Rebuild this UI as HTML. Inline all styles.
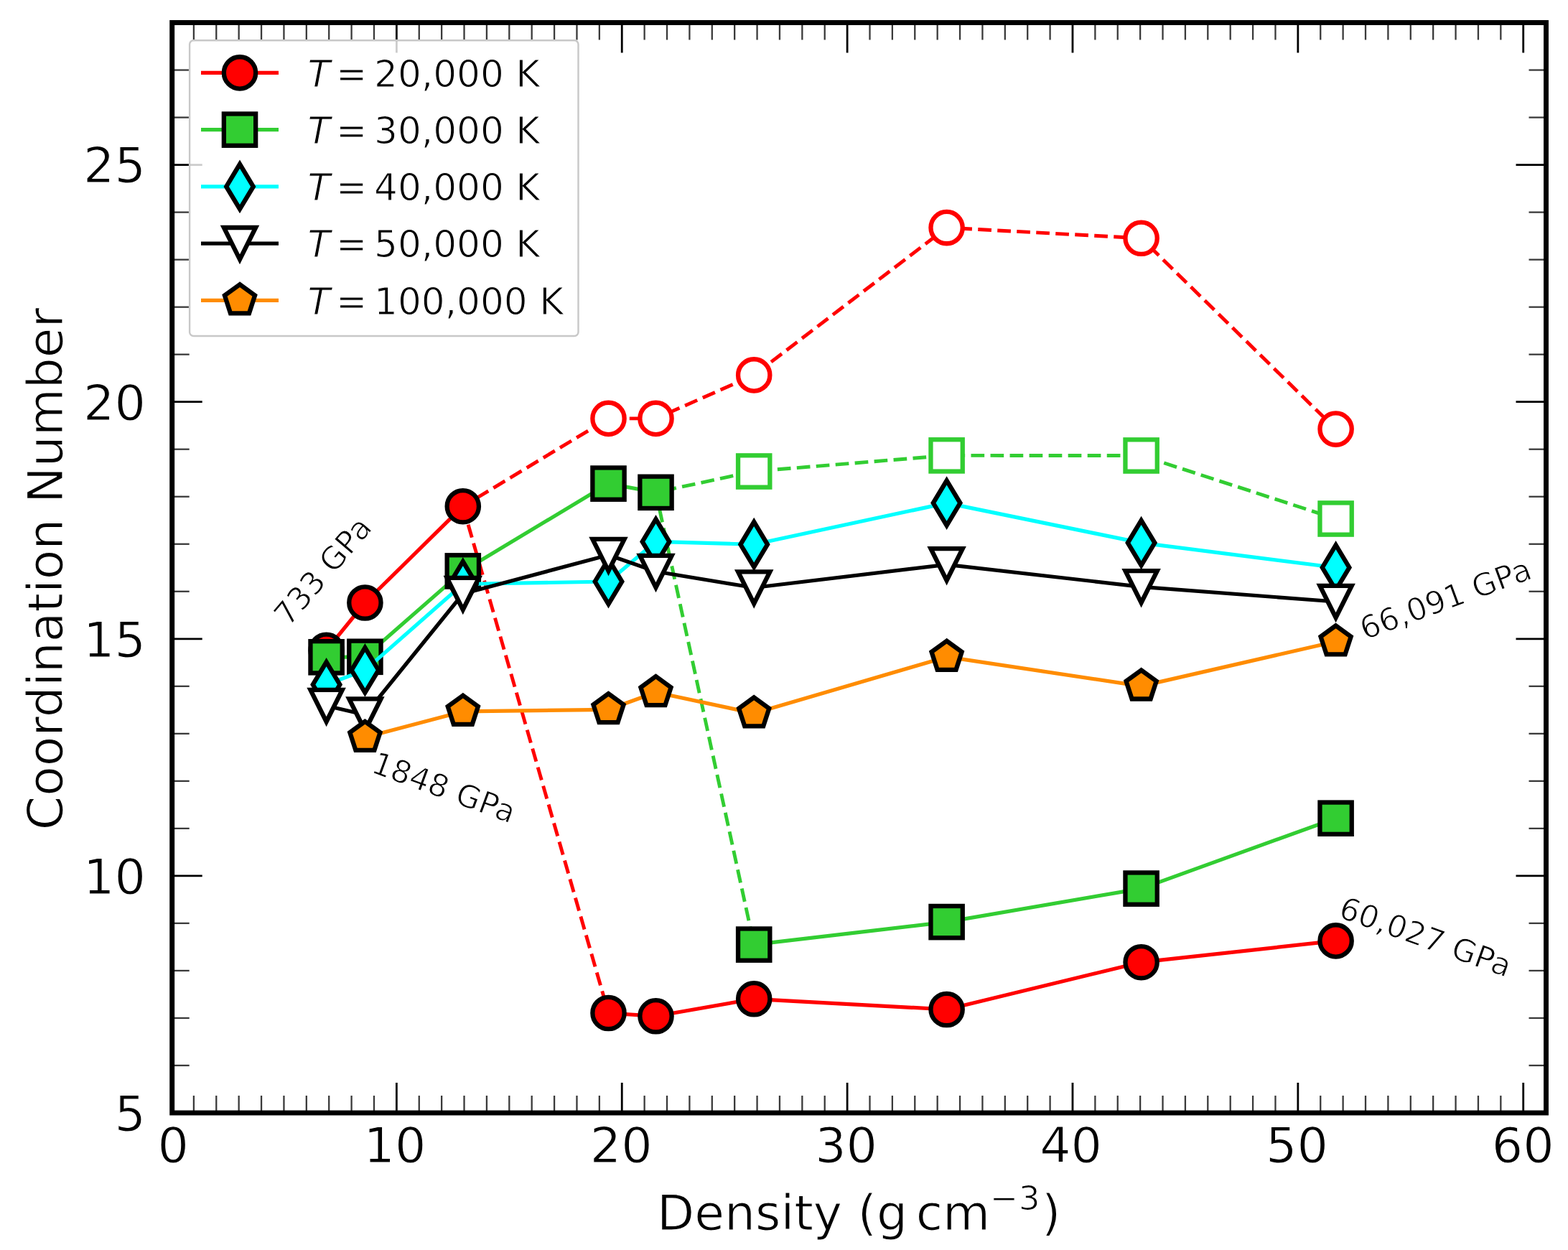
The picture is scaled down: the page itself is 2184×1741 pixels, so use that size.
<!DOCTYPE html>
<html><head><meta charset="utf-8"><title>Coordination Number vs Density</title><style>html,body{margin:0;padding:0;background:#fff;overflow:hidden}svg{display:block;filter:blur(0.5px)}</style></head><body>
<svg width="2184" height="1741" viewBox="0 0 2184 1741">
<rect x="0" y="0" width="2184" height="1741" fill="#ffffff"/>
<defs><clipPath id="ax"><rect x="239.7" y="31.5" width="1913.8" height="1518.5"/></clipPath></defs>
<g clip-path="url(#ax)">
<polyline points="644.8,705.2 847.5,582.9 913.5,582.9 1050.2,522.4 1318.6,317.1 1589.6,331.8 1860.6,597.6" fill="none" stroke="#ff0000" stroke-width="4.9" stroke-linejoin="round" stroke-linecap="butt" stroke-dasharray="18.7 8.34" stroke-dashoffset="4.4"/>
<polyline points="644.8,705.2 847.5,1411" fill="none" stroke="#ff0000" stroke-width="4.9" stroke-linejoin="round" stroke-linecap="butt" stroke-dasharray="18.7 8.34" stroke-dashoffset="0.5"/>
<circle cx="847.5" cy="582.9" r="22.15" fill="#ffffff" stroke="#ff0000" stroke-width="6.3"/>
<circle cx="913.5" cy="582.9" r="22.15" fill="#ffffff" stroke="#ff0000" stroke-width="6.3"/>
<circle cx="1050.2" cy="522.4" r="22.15" fill="#ffffff" stroke="#ff0000" stroke-width="6.3"/>
<circle cx="1318.6" cy="317.1" r="22.15" fill="#ffffff" stroke="#ff0000" stroke-width="6.3"/>
<circle cx="1589.6" cy="331.8" r="22.15" fill="#ffffff" stroke="#ff0000" stroke-width="6.3"/>
<circle cx="1860.6" cy="597.6" r="22.15" fill="#ffffff" stroke="#ff0000" stroke-width="6.3"/>
<polyline points="454.6,905.7 508.4,839.5 644.8,705.2" fill="none" stroke="#ff0000" stroke-width="5.2" stroke-linejoin="round" stroke-linecap="butt"/>
<circle cx="454.6" cy="905.7" r="22.15" fill="#ff0000" stroke="#000000" stroke-width="6.3"/>
<circle cx="508.4" cy="839.5" r="22.15" fill="#ff0000" stroke="#000000" stroke-width="6.3"/>
<circle cx="644.8" cy="705.2" r="22.15" fill="#ff0000" stroke="#000000" stroke-width="6.3"/>
<polyline points="847.5,1411 913.5,1415.3 1050.2,1391.3 1318.6,1406 1589.6,1340.2 1860.6,1310.4" fill="none" stroke="#ff0000" stroke-width="5.2" stroke-linejoin="round" stroke-linecap="butt"/>
<circle cx="847.5" cy="1411" r="22.15" fill="#ff0000" stroke="#000000" stroke-width="6.3"/>
<circle cx="913.5" cy="1415.3" r="22.15" fill="#ff0000" stroke="#000000" stroke-width="6.3"/>
<circle cx="1050.2" cy="1391.3" r="22.15" fill="#ff0000" stroke="#000000" stroke-width="6.3"/>
<circle cx="1318.6" cy="1406" r="22.15" fill="#ff0000" stroke="#000000" stroke-width="6.3"/>
<circle cx="1589.6" cy="1340.2" r="22.15" fill="#ff0000" stroke="#000000" stroke-width="6.3"/>
<circle cx="1860.6" cy="1310.4" r="22.15" fill="#ff0000" stroke="#000000" stroke-width="6.3"/>
<polyline points="913.5,685.8 1050.2,656.5 1318.6,634.4 1589.6,634.5 1860.6,722.5" fill="none" stroke="#32cd32" stroke-width="4.9" stroke-linejoin="round" stroke-linecap="butt" stroke-dasharray="18.7 8.34" stroke-dashoffset="16.7"/>
<polyline points="913.5,685.8 1050.2,1315.6" fill="none" stroke="#32cd32" stroke-width="4.9" stroke-linejoin="round" stroke-linecap="butt" stroke-dasharray="18.7 8.34" stroke-dashoffset="3.2"/>
<rect x="1028.05" y="634.35" width="44.3" height="44.3" fill="#ffffff" stroke="#32cd32" stroke-width="6.3" stroke-linejoin="miter"/>
<rect x="1296.45" y="612.25" width="44.3" height="44.3" fill="#ffffff" stroke="#32cd32" stroke-width="6.3" stroke-linejoin="miter"/>
<rect x="1567.45" y="612.35" width="44.3" height="44.3" fill="#ffffff" stroke="#32cd32" stroke-width="6.3" stroke-linejoin="miter"/>
<rect x="1838.45" y="700.35" width="44.3" height="44.3" fill="#ffffff" stroke="#32cd32" stroke-width="6.3" stroke-linejoin="miter"/>
<polyline points="454.6,915.3 508.4,914.8 644.8,795.4 847.5,673.6 913.5,685.8" fill="none" stroke="#32cd32" stroke-width="5.2" stroke-linejoin="round" stroke-linecap="butt"/>
<rect x="432.45" y="893.15" width="44.3" height="44.3" fill="#32cd32" stroke="#000000" stroke-width="6.3" stroke-linejoin="miter"/>
<rect x="486.25" y="892.65" width="44.3" height="44.3" fill="#32cd32" stroke="#000000" stroke-width="6.3" stroke-linejoin="miter"/>
<rect x="622.65" y="773.25" width="44.3" height="44.3" fill="#32cd32" stroke="#000000" stroke-width="6.3" stroke-linejoin="miter"/>
<rect x="825.35" y="651.45" width="44.3" height="44.3" fill="#32cd32" stroke="#000000" stroke-width="6.3" stroke-linejoin="miter"/>
<rect x="891.35" y="663.65" width="44.3" height="44.3" fill="#32cd32" stroke="#000000" stroke-width="6.3" stroke-linejoin="miter"/>
<polyline points="1050.2,1315.6 1318.6,1284.1 1589.6,1237.6 1860.6,1139.7" fill="none" stroke="#32cd32" stroke-width="5.2" stroke-linejoin="round" stroke-linecap="butt"/>
<rect x="1028.05" y="1293.45" width="44.3" height="44.3" fill="#32cd32" stroke="#000000" stroke-width="6.3" stroke-linejoin="miter"/>
<rect x="1296.45" y="1261.95" width="44.3" height="44.3" fill="#32cd32" stroke="#000000" stroke-width="6.3" stroke-linejoin="miter"/>
<rect x="1567.45" y="1215.45" width="44.3" height="44.3" fill="#32cd32" stroke="#000000" stroke-width="6.3" stroke-linejoin="miter"/>
<rect x="1838.45" y="1117.55" width="44.3" height="44.3" fill="#32cd32" stroke="#000000" stroke-width="6.3" stroke-linejoin="miter"/>
<polyline points="454.6,953.5 508.4,933.4 644.8,813.5 847.5,810 913.5,754.4 1050.2,758.3 1318.6,700.6 1589.6,756.1 1860.6,790.5" fill="none" stroke="#00ffff" stroke-width="5.2" stroke-linejoin="round" stroke-linecap="butt"/>
<polygon points="454.6,922.18 473.39,953.5 454.6,984.82 435.81,953.5" fill="#00ffff" stroke="#000000" stroke-width="6.3" stroke-linejoin="miter" stroke-miterlimit="10"/>
<polygon points="508.4,902.08 527.19,933.4 508.4,964.72 489.61,933.4" fill="#00ffff" stroke="#000000" stroke-width="6.3" stroke-linejoin="miter" stroke-miterlimit="10"/>
<polygon points="644.8,782.18 663.59,813.5 644.8,844.82 626.01,813.5" fill="#00ffff" stroke="#000000" stroke-width="6.3" stroke-linejoin="miter" stroke-miterlimit="10"/>
<polygon points="847.5,778.68 866.29,810 847.5,841.32 828.71,810" fill="#00ffff" stroke="#000000" stroke-width="6.3" stroke-linejoin="miter" stroke-miterlimit="10"/>
<polygon points="913.5,723.08 932.29,754.4 913.5,785.72 894.71,754.4" fill="#00ffff" stroke="#000000" stroke-width="6.3" stroke-linejoin="miter" stroke-miterlimit="10"/>
<polygon points="1050.2,726.98 1068.99,758.3 1050.2,789.62 1031.41,758.3" fill="#00ffff" stroke="#000000" stroke-width="6.3" stroke-linejoin="miter" stroke-miterlimit="10"/>
<polygon points="1318.6,669.28 1337.39,700.6 1318.6,731.92 1299.81,700.6" fill="#00ffff" stroke="#000000" stroke-width="6.3" stroke-linejoin="miter" stroke-miterlimit="10"/>
<polygon points="1589.6,724.78 1608.39,756.1 1589.6,787.42 1570.81,756.1" fill="#00ffff" stroke="#000000" stroke-width="6.3" stroke-linejoin="miter" stroke-miterlimit="10"/>
<polygon points="1860.6,759.18 1879.39,790.5 1860.6,821.82 1841.81,790.5" fill="#00ffff" stroke="#000000" stroke-width="6.3" stroke-linejoin="miter" stroke-miterlimit="10"/>
<polyline points="454.6,983 508.4,995.5 644.8,827 847.5,773 913.5,796 1050.2,818.5 1318.6,786.3 1589.6,817.3 1860.6,838" fill="none" stroke="#000000" stroke-width="5.2" stroke-linejoin="round" stroke-linecap="butt"/>
<polygon points="432.45,960.85 476.75,960.85 454.6,1005.15" fill="#ffffff" stroke="#000000" stroke-width="6.3" stroke-linejoin="miter" stroke-miterlimit="10"/>
<polygon points="486.25,973.35 530.55,973.35 508.4,1017.65" fill="#ffffff" stroke="#000000" stroke-width="6.3" stroke-linejoin="miter" stroke-miterlimit="10"/>
<polygon points="622.65,804.85 666.95,804.85 644.8,849.15" fill="#ffffff" stroke="#000000" stroke-width="6.3" stroke-linejoin="miter" stroke-miterlimit="10"/>
<polygon points="825.35,750.85 869.65,750.85 847.5,795.15" fill="#ffffff" stroke="#000000" stroke-width="6.3" stroke-linejoin="miter" stroke-miterlimit="10"/>
<polygon points="891.35,773.85 935.65,773.85 913.5,818.15" fill="#ffffff" stroke="#000000" stroke-width="6.3" stroke-linejoin="miter" stroke-miterlimit="10"/>
<polygon points="1028.05,796.35 1072.35,796.35 1050.2,840.65" fill="#ffffff" stroke="#000000" stroke-width="6.3" stroke-linejoin="miter" stroke-miterlimit="10"/>
<polygon points="1296.45,764.15 1340.75,764.15 1318.6,808.45" fill="#ffffff" stroke="#000000" stroke-width="6.3" stroke-linejoin="miter" stroke-miterlimit="10"/>
<polygon points="1567.45,795.15 1611.75,795.15 1589.6,839.45" fill="#ffffff" stroke="#000000" stroke-width="6.3" stroke-linejoin="miter" stroke-miterlimit="10"/>
<polygon points="1838.45,815.85 1882.75,815.85 1860.6,860.15" fill="#ffffff" stroke="#000000" stroke-width="6.3" stroke-linejoin="miter" stroke-miterlimit="10"/>
<polyline points="508.4,1027 644.8,990.9 847.5,988.3 913.5,964.2 1050.2,993.5 1318.6,914.9 1589.6,955.6 1860.6,893.5" fill="none" stroke="#ff8c00" stroke-width="5.2" stroke-linejoin="round" stroke-linecap="butt"/>
<polygon points="508.4,1004.85 487.33,1020.16 495.38,1044.92 521.42,1044.92 529.47,1020.16" fill="#ff8c00" stroke="#000000" stroke-width="6.3" stroke-linejoin="miter" stroke-miterlimit="10"/>
<polygon points="644.8,968.75 623.73,984.06 631.78,1008.82 657.82,1008.82 665.87,984.06" fill="#ff8c00" stroke="#000000" stroke-width="6.3" stroke-linejoin="miter" stroke-miterlimit="10"/>
<polygon points="847.5,966.15 826.43,981.46 834.48,1006.22 860.52,1006.22 868.57,981.46" fill="#ff8c00" stroke="#000000" stroke-width="6.3" stroke-linejoin="miter" stroke-miterlimit="10"/>
<polygon points="913.5,942.05 892.43,957.36 900.48,982.12 926.52,982.12 934.57,957.36" fill="#ff8c00" stroke="#000000" stroke-width="6.3" stroke-linejoin="miter" stroke-miterlimit="10"/>
<polygon points="1050.2,971.35 1029.13,986.66 1037.18,1011.42 1063.22,1011.42 1071.27,986.66" fill="#ff8c00" stroke="#000000" stroke-width="6.3" stroke-linejoin="miter" stroke-miterlimit="10"/>
<polygon points="1318.6,892.75 1297.53,908.06 1305.58,932.82 1331.62,932.82 1339.67,908.06" fill="#ff8c00" stroke="#000000" stroke-width="6.3" stroke-linejoin="miter" stroke-miterlimit="10"/>
<polygon points="1589.6,933.45 1568.53,948.76 1576.58,973.52 1602.62,973.52 1610.67,948.76" fill="#ff8c00" stroke="#000000" stroke-width="6.3" stroke-linejoin="miter" stroke-miterlimit="10"/>
<polygon points="1860.6,871.35 1839.53,886.66 1847.58,911.42 1873.62,911.42 1881.67,886.66" fill="#ff8c00" stroke="#000000" stroke-width="6.3" stroke-linejoin="miter" stroke-miterlimit="10"/>
</g>
<g>
<line x1="238.5" y1="1550" x2="238.5" y2="1508" stroke="#000" stroke-width="2.8"/>
<line x1="238.5" y1="31.5" x2="238.5" y2="73.5" stroke="#000" stroke-width="2.8"/>
<line x1="269.89" y1="1550" x2="269.89" y2="1526" stroke="#3a3a3a" stroke-width="2.3"/>
<line x1="269.89" y1="31.5" x2="269.89" y2="55.5" stroke="#3a3a3a" stroke-width="2.3"/>
<line x1="301.27" y1="1550" x2="301.27" y2="1526" stroke="#3a3a3a" stroke-width="2.3"/>
<line x1="301.27" y1="31.5" x2="301.27" y2="55.5" stroke="#3a3a3a" stroke-width="2.3"/>
<line x1="332.66" y1="1550" x2="332.66" y2="1526" stroke="#3a3a3a" stroke-width="2.3"/>
<line x1="332.66" y1="31.5" x2="332.66" y2="55.5" stroke="#3a3a3a" stroke-width="2.3"/>
<line x1="364.05" y1="1550" x2="364.05" y2="1526" stroke="#3a3a3a" stroke-width="2.3"/>
<line x1="364.05" y1="31.5" x2="364.05" y2="55.5" stroke="#3a3a3a" stroke-width="2.3"/>
<line x1="395.44" y1="1550" x2="395.44" y2="1526" stroke="#3a3a3a" stroke-width="2.3"/>
<line x1="395.44" y1="31.5" x2="395.44" y2="55.5" stroke="#3a3a3a" stroke-width="2.3"/>
<line x1="426.82" y1="1550" x2="426.82" y2="1526" stroke="#3a3a3a" stroke-width="2.3"/>
<line x1="426.82" y1="31.5" x2="426.82" y2="55.5" stroke="#3a3a3a" stroke-width="2.3"/>
<line x1="458.21" y1="1550" x2="458.21" y2="1526" stroke="#3a3a3a" stroke-width="2.3"/>
<line x1="458.21" y1="31.5" x2="458.21" y2="55.5" stroke="#3a3a3a" stroke-width="2.3"/>
<line x1="489.6" y1="1550" x2="489.6" y2="1526" stroke="#3a3a3a" stroke-width="2.3"/>
<line x1="489.6" y1="31.5" x2="489.6" y2="55.5" stroke="#3a3a3a" stroke-width="2.3"/>
<line x1="520.98" y1="1550" x2="520.98" y2="1526" stroke="#3a3a3a" stroke-width="2.3"/>
<line x1="520.98" y1="31.5" x2="520.98" y2="55.5" stroke="#3a3a3a" stroke-width="2.3"/>
<line x1="552.37" y1="1550" x2="552.37" y2="1508" stroke="#000" stroke-width="2.8"/>
<line x1="552.37" y1="31.5" x2="552.37" y2="73.5" stroke="#000" stroke-width="2.8"/>
<line x1="583.76" y1="1550" x2="583.76" y2="1526" stroke="#3a3a3a" stroke-width="2.3"/>
<line x1="583.76" y1="31.5" x2="583.76" y2="55.5" stroke="#3a3a3a" stroke-width="2.3"/>
<line x1="615.14" y1="1550" x2="615.14" y2="1526" stroke="#3a3a3a" stroke-width="2.3"/>
<line x1="615.14" y1="31.5" x2="615.14" y2="55.5" stroke="#3a3a3a" stroke-width="2.3"/>
<line x1="646.53" y1="1550" x2="646.53" y2="1526" stroke="#3a3a3a" stroke-width="2.3"/>
<line x1="646.53" y1="31.5" x2="646.53" y2="55.5" stroke="#3a3a3a" stroke-width="2.3"/>
<line x1="677.92" y1="1550" x2="677.92" y2="1526" stroke="#3a3a3a" stroke-width="2.3"/>
<line x1="677.92" y1="31.5" x2="677.92" y2="55.5" stroke="#3a3a3a" stroke-width="2.3"/>
<line x1="709.31" y1="1550" x2="709.31" y2="1526" stroke="#3a3a3a" stroke-width="2.3"/>
<line x1="709.31" y1="31.5" x2="709.31" y2="55.5" stroke="#3a3a3a" stroke-width="2.3"/>
<line x1="740.69" y1="1550" x2="740.69" y2="1526" stroke="#3a3a3a" stroke-width="2.3"/>
<line x1="740.69" y1="31.5" x2="740.69" y2="55.5" stroke="#3a3a3a" stroke-width="2.3"/>
<line x1="772.08" y1="1550" x2="772.08" y2="1526" stroke="#3a3a3a" stroke-width="2.3"/>
<line x1="772.08" y1="31.5" x2="772.08" y2="55.5" stroke="#3a3a3a" stroke-width="2.3"/>
<line x1="803.47" y1="1550" x2="803.47" y2="1526" stroke="#3a3a3a" stroke-width="2.3"/>
<line x1="803.47" y1="31.5" x2="803.47" y2="55.5" stroke="#3a3a3a" stroke-width="2.3"/>
<line x1="834.85" y1="1550" x2="834.85" y2="1526" stroke="#3a3a3a" stroke-width="2.3"/>
<line x1="834.85" y1="31.5" x2="834.85" y2="55.5" stroke="#3a3a3a" stroke-width="2.3"/>
<line x1="866.24" y1="1550" x2="866.24" y2="1508" stroke="#000" stroke-width="2.8"/>
<line x1="866.24" y1="31.5" x2="866.24" y2="73.5" stroke="#000" stroke-width="2.8"/>
<line x1="897.63" y1="1550" x2="897.63" y2="1526" stroke="#3a3a3a" stroke-width="2.3"/>
<line x1="897.63" y1="31.5" x2="897.63" y2="55.5" stroke="#3a3a3a" stroke-width="2.3"/>
<line x1="929.01" y1="1550" x2="929.01" y2="1526" stroke="#3a3a3a" stroke-width="2.3"/>
<line x1="929.01" y1="31.5" x2="929.01" y2="55.5" stroke="#3a3a3a" stroke-width="2.3"/>
<line x1="960.4" y1="1550" x2="960.4" y2="1526" stroke="#3a3a3a" stroke-width="2.3"/>
<line x1="960.4" y1="31.5" x2="960.4" y2="55.5" stroke="#3a3a3a" stroke-width="2.3"/>
<line x1="991.79" y1="1550" x2="991.79" y2="1526" stroke="#3a3a3a" stroke-width="2.3"/>
<line x1="991.79" y1="31.5" x2="991.79" y2="55.5" stroke="#3a3a3a" stroke-width="2.3"/>
<line x1="1023.17" y1="1550" x2="1023.17" y2="1526" stroke="#3a3a3a" stroke-width="2.3"/>
<line x1="1023.17" y1="31.5" x2="1023.17" y2="55.5" stroke="#3a3a3a" stroke-width="2.3"/>
<line x1="1054.56" y1="1550" x2="1054.56" y2="1526" stroke="#3a3a3a" stroke-width="2.3"/>
<line x1="1054.56" y1="31.5" x2="1054.56" y2="55.5" stroke="#3a3a3a" stroke-width="2.3"/>
<line x1="1085.95" y1="1550" x2="1085.95" y2="1526" stroke="#3a3a3a" stroke-width="2.3"/>
<line x1="1085.95" y1="31.5" x2="1085.95" y2="55.5" stroke="#3a3a3a" stroke-width="2.3"/>
<line x1="1117.34" y1="1550" x2="1117.34" y2="1526" stroke="#3a3a3a" stroke-width="2.3"/>
<line x1="1117.34" y1="31.5" x2="1117.34" y2="55.5" stroke="#3a3a3a" stroke-width="2.3"/>
<line x1="1148.72" y1="1550" x2="1148.72" y2="1526" stroke="#3a3a3a" stroke-width="2.3"/>
<line x1="1148.72" y1="31.5" x2="1148.72" y2="55.5" stroke="#3a3a3a" stroke-width="2.3"/>
<line x1="1180.11" y1="1550" x2="1180.11" y2="1508" stroke="#000" stroke-width="2.8"/>
<line x1="1180.11" y1="31.5" x2="1180.11" y2="73.5" stroke="#000" stroke-width="2.8"/>
<line x1="1211.5" y1="1550" x2="1211.5" y2="1526" stroke="#3a3a3a" stroke-width="2.3"/>
<line x1="1211.5" y1="31.5" x2="1211.5" y2="55.5" stroke="#3a3a3a" stroke-width="2.3"/>
<line x1="1242.88" y1="1550" x2="1242.88" y2="1526" stroke="#3a3a3a" stroke-width="2.3"/>
<line x1="1242.88" y1="31.5" x2="1242.88" y2="55.5" stroke="#3a3a3a" stroke-width="2.3"/>
<line x1="1274.27" y1="1550" x2="1274.27" y2="1526" stroke="#3a3a3a" stroke-width="2.3"/>
<line x1="1274.27" y1="31.5" x2="1274.27" y2="55.5" stroke="#3a3a3a" stroke-width="2.3"/>
<line x1="1305.66" y1="1550" x2="1305.66" y2="1526" stroke="#3a3a3a" stroke-width="2.3"/>
<line x1="1305.66" y1="31.5" x2="1305.66" y2="55.5" stroke="#3a3a3a" stroke-width="2.3"/>
<line x1="1337.05" y1="1550" x2="1337.05" y2="1526" stroke="#3a3a3a" stroke-width="2.3"/>
<line x1="1337.05" y1="31.5" x2="1337.05" y2="55.5" stroke="#3a3a3a" stroke-width="2.3"/>
<line x1="1368.43" y1="1550" x2="1368.43" y2="1526" stroke="#3a3a3a" stroke-width="2.3"/>
<line x1="1368.43" y1="31.5" x2="1368.43" y2="55.5" stroke="#3a3a3a" stroke-width="2.3"/>
<line x1="1399.82" y1="1550" x2="1399.82" y2="1526" stroke="#3a3a3a" stroke-width="2.3"/>
<line x1="1399.82" y1="31.5" x2="1399.82" y2="55.5" stroke="#3a3a3a" stroke-width="2.3"/>
<line x1="1431.21" y1="1550" x2="1431.21" y2="1526" stroke="#3a3a3a" stroke-width="2.3"/>
<line x1="1431.21" y1="31.5" x2="1431.21" y2="55.5" stroke="#3a3a3a" stroke-width="2.3"/>
<line x1="1462.59" y1="1550" x2="1462.59" y2="1526" stroke="#3a3a3a" stroke-width="2.3"/>
<line x1="1462.59" y1="31.5" x2="1462.59" y2="55.5" stroke="#3a3a3a" stroke-width="2.3"/>
<line x1="1493.98" y1="1550" x2="1493.98" y2="1508" stroke="#000" stroke-width="2.8"/>
<line x1="1493.98" y1="31.5" x2="1493.98" y2="73.5" stroke="#000" stroke-width="2.8"/>
<line x1="1525.37" y1="1550" x2="1525.37" y2="1526" stroke="#3a3a3a" stroke-width="2.3"/>
<line x1="1525.37" y1="31.5" x2="1525.37" y2="55.5" stroke="#3a3a3a" stroke-width="2.3"/>
<line x1="1556.75" y1="1550" x2="1556.75" y2="1526" stroke="#3a3a3a" stroke-width="2.3"/>
<line x1="1556.75" y1="31.5" x2="1556.75" y2="55.5" stroke="#3a3a3a" stroke-width="2.3"/>
<line x1="1588.14" y1="1550" x2="1588.14" y2="1526" stroke="#3a3a3a" stroke-width="2.3"/>
<line x1="1588.14" y1="31.5" x2="1588.14" y2="55.5" stroke="#3a3a3a" stroke-width="2.3"/>
<line x1="1619.53" y1="1550" x2="1619.53" y2="1526" stroke="#3a3a3a" stroke-width="2.3"/>
<line x1="1619.53" y1="31.5" x2="1619.53" y2="55.5" stroke="#3a3a3a" stroke-width="2.3"/>
<line x1="1650.91" y1="1550" x2="1650.91" y2="1526" stroke="#3a3a3a" stroke-width="2.3"/>
<line x1="1650.91" y1="31.5" x2="1650.91" y2="55.5" stroke="#3a3a3a" stroke-width="2.3"/>
<line x1="1682.3" y1="1550" x2="1682.3" y2="1526" stroke="#3a3a3a" stroke-width="2.3"/>
<line x1="1682.3" y1="31.5" x2="1682.3" y2="55.5" stroke="#3a3a3a" stroke-width="2.3"/>
<line x1="1713.69" y1="1550" x2="1713.69" y2="1526" stroke="#3a3a3a" stroke-width="2.3"/>
<line x1="1713.69" y1="31.5" x2="1713.69" y2="55.5" stroke="#3a3a3a" stroke-width="2.3"/>
<line x1="1745.08" y1="1550" x2="1745.08" y2="1526" stroke="#3a3a3a" stroke-width="2.3"/>
<line x1="1745.08" y1="31.5" x2="1745.08" y2="55.5" stroke="#3a3a3a" stroke-width="2.3"/>
<line x1="1776.46" y1="1550" x2="1776.46" y2="1526" stroke="#3a3a3a" stroke-width="2.3"/>
<line x1="1776.46" y1="31.5" x2="1776.46" y2="55.5" stroke="#3a3a3a" stroke-width="2.3"/>
<line x1="1807.85" y1="1550" x2="1807.85" y2="1508" stroke="#000" stroke-width="2.8"/>
<line x1="1807.85" y1="31.5" x2="1807.85" y2="73.5" stroke="#000" stroke-width="2.8"/>
<line x1="1839.24" y1="1550" x2="1839.24" y2="1526" stroke="#3a3a3a" stroke-width="2.3"/>
<line x1="1839.24" y1="31.5" x2="1839.24" y2="55.5" stroke="#3a3a3a" stroke-width="2.3"/>
<line x1="1870.62" y1="1550" x2="1870.62" y2="1526" stroke="#3a3a3a" stroke-width="2.3"/>
<line x1="1870.62" y1="31.5" x2="1870.62" y2="55.5" stroke="#3a3a3a" stroke-width="2.3"/>
<line x1="1902.01" y1="1550" x2="1902.01" y2="1526" stroke="#3a3a3a" stroke-width="2.3"/>
<line x1="1902.01" y1="31.5" x2="1902.01" y2="55.5" stroke="#3a3a3a" stroke-width="2.3"/>
<line x1="1933.4" y1="1550" x2="1933.4" y2="1526" stroke="#3a3a3a" stroke-width="2.3"/>
<line x1="1933.4" y1="31.5" x2="1933.4" y2="55.5" stroke="#3a3a3a" stroke-width="2.3"/>
<line x1="1964.79" y1="1550" x2="1964.79" y2="1526" stroke="#3a3a3a" stroke-width="2.3"/>
<line x1="1964.79" y1="31.5" x2="1964.79" y2="55.5" stroke="#3a3a3a" stroke-width="2.3"/>
<line x1="1996.17" y1="1550" x2="1996.17" y2="1526" stroke="#3a3a3a" stroke-width="2.3"/>
<line x1="1996.17" y1="31.5" x2="1996.17" y2="55.5" stroke="#3a3a3a" stroke-width="2.3"/>
<line x1="2027.56" y1="1550" x2="2027.56" y2="1526" stroke="#3a3a3a" stroke-width="2.3"/>
<line x1="2027.56" y1="31.5" x2="2027.56" y2="55.5" stroke="#3a3a3a" stroke-width="2.3"/>
<line x1="2058.95" y1="1550" x2="2058.95" y2="1526" stroke="#3a3a3a" stroke-width="2.3"/>
<line x1="2058.95" y1="31.5" x2="2058.95" y2="55.5" stroke="#3a3a3a" stroke-width="2.3"/>
<line x1="2090.33" y1="1550" x2="2090.33" y2="1526" stroke="#3a3a3a" stroke-width="2.3"/>
<line x1="2090.33" y1="31.5" x2="2090.33" y2="55.5" stroke="#3a3a3a" stroke-width="2.3"/>
<line x1="2121.72" y1="1550" x2="2121.72" y2="1508" stroke="#000" stroke-width="2.8"/>
<line x1="2121.72" y1="31.5" x2="2121.72" y2="73.5" stroke="#000" stroke-width="2.8"/>
<line x1="239.7" y1="1550" x2="281.7" y2="1550" stroke="#000" stroke-width="2.8"/>
<line x1="2153.5" y1="1550" x2="2111.5" y2="1550" stroke="#000" stroke-width="2.8"/>
<line x1="239.7" y1="1483.98" x2="263.7" y2="1483.98" stroke="#3a3a3a" stroke-width="2.3"/>
<line x1="2153.5" y1="1483.98" x2="2129.5" y2="1483.98" stroke="#3a3a3a" stroke-width="2.3"/>
<line x1="239.7" y1="1417.96" x2="263.7" y2="1417.96" stroke="#3a3a3a" stroke-width="2.3"/>
<line x1="2153.5" y1="1417.96" x2="2129.5" y2="1417.96" stroke="#3a3a3a" stroke-width="2.3"/>
<line x1="239.7" y1="1351.94" x2="263.7" y2="1351.94" stroke="#3a3a3a" stroke-width="2.3"/>
<line x1="2153.5" y1="1351.94" x2="2129.5" y2="1351.94" stroke="#3a3a3a" stroke-width="2.3"/>
<line x1="239.7" y1="1285.92" x2="263.7" y2="1285.92" stroke="#3a3a3a" stroke-width="2.3"/>
<line x1="2153.5" y1="1285.92" x2="2129.5" y2="1285.92" stroke="#3a3a3a" stroke-width="2.3"/>
<line x1="239.7" y1="1219.9" x2="281.7" y2="1219.9" stroke="#000" stroke-width="2.8"/>
<line x1="2153.5" y1="1219.9" x2="2111.5" y2="1219.9" stroke="#000" stroke-width="2.8"/>
<line x1="239.7" y1="1153.88" x2="263.7" y2="1153.88" stroke="#3a3a3a" stroke-width="2.3"/>
<line x1="2153.5" y1="1153.88" x2="2129.5" y2="1153.88" stroke="#3a3a3a" stroke-width="2.3"/>
<line x1="239.7" y1="1087.86" x2="263.7" y2="1087.86" stroke="#3a3a3a" stroke-width="2.3"/>
<line x1="2153.5" y1="1087.86" x2="2129.5" y2="1087.86" stroke="#3a3a3a" stroke-width="2.3"/>
<line x1="239.7" y1="1021.84" x2="263.7" y2="1021.84" stroke="#3a3a3a" stroke-width="2.3"/>
<line x1="2153.5" y1="1021.84" x2="2129.5" y2="1021.84" stroke="#3a3a3a" stroke-width="2.3"/>
<line x1="239.7" y1="955.82" x2="263.7" y2="955.82" stroke="#3a3a3a" stroke-width="2.3"/>
<line x1="2153.5" y1="955.82" x2="2129.5" y2="955.82" stroke="#3a3a3a" stroke-width="2.3"/>
<line x1="239.7" y1="889.8" x2="281.7" y2="889.8" stroke="#000" stroke-width="2.8"/>
<line x1="2153.5" y1="889.8" x2="2111.5" y2="889.8" stroke="#000" stroke-width="2.8"/>
<line x1="239.7" y1="823.78" x2="263.7" y2="823.78" stroke="#3a3a3a" stroke-width="2.3"/>
<line x1="2153.5" y1="823.78" x2="2129.5" y2="823.78" stroke="#3a3a3a" stroke-width="2.3"/>
<line x1="239.7" y1="757.76" x2="263.7" y2="757.76" stroke="#3a3a3a" stroke-width="2.3"/>
<line x1="2153.5" y1="757.76" x2="2129.5" y2="757.76" stroke="#3a3a3a" stroke-width="2.3"/>
<line x1="239.7" y1="691.74" x2="263.7" y2="691.74" stroke="#3a3a3a" stroke-width="2.3"/>
<line x1="2153.5" y1="691.74" x2="2129.5" y2="691.74" stroke="#3a3a3a" stroke-width="2.3"/>
<line x1="239.7" y1="625.72" x2="263.7" y2="625.72" stroke="#3a3a3a" stroke-width="2.3"/>
<line x1="2153.5" y1="625.72" x2="2129.5" y2="625.72" stroke="#3a3a3a" stroke-width="2.3"/>
<line x1="239.7" y1="559.7" x2="281.7" y2="559.7" stroke="#000" stroke-width="2.8"/>
<line x1="2153.5" y1="559.7" x2="2111.5" y2="559.7" stroke="#000" stroke-width="2.8"/>
<line x1="239.7" y1="493.68" x2="263.7" y2="493.68" stroke="#3a3a3a" stroke-width="2.3"/>
<line x1="2153.5" y1="493.68" x2="2129.5" y2="493.68" stroke="#3a3a3a" stroke-width="2.3"/>
<line x1="239.7" y1="427.66" x2="263.7" y2="427.66" stroke="#3a3a3a" stroke-width="2.3"/>
<line x1="2153.5" y1="427.66" x2="2129.5" y2="427.66" stroke="#3a3a3a" stroke-width="2.3"/>
<line x1="239.7" y1="361.64" x2="263.7" y2="361.64" stroke="#3a3a3a" stroke-width="2.3"/>
<line x1="2153.5" y1="361.64" x2="2129.5" y2="361.64" stroke="#3a3a3a" stroke-width="2.3"/>
<line x1="239.7" y1="295.62" x2="263.7" y2="295.62" stroke="#3a3a3a" stroke-width="2.3"/>
<line x1="2153.5" y1="295.62" x2="2129.5" y2="295.62" stroke="#3a3a3a" stroke-width="2.3"/>
<line x1="239.7" y1="229.6" x2="281.7" y2="229.6" stroke="#000" stroke-width="2.8"/>
<line x1="2153.5" y1="229.6" x2="2111.5" y2="229.6" stroke="#000" stroke-width="2.8"/>
<line x1="239.7" y1="163.58" x2="263.7" y2="163.58" stroke="#3a3a3a" stroke-width="2.3"/>
<line x1="2153.5" y1="163.58" x2="2129.5" y2="163.58" stroke="#3a3a3a" stroke-width="2.3"/>
<line x1="239.7" y1="97.56" x2="263.7" y2="97.56" stroke="#3a3a3a" stroke-width="2.3"/>
<line x1="2153.5" y1="97.56" x2="2129.5" y2="97.56" stroke="#3a3a3a" stroke-width="2.3"/>
<line x1="239.7" y1="31.54" x2="263.7" y2="31.54" stroke="#3a3a3a" stroke-width="2.3"/>
<line x1="2153.5" y1="31.54" x2="2129.5" y2="31.54" stroke="#3a3a3a" stroke-width="2.3"/>
</g>
<rect x="239.7" y="31.5" width="1913.8" height="1518.5" fill="none" stroke="#000" stroke-width="6.94" stroke-linejoin="miter"/>
<g font-family="'DejaVu Sans', 'Liberation Sans', sans-serif" font-size="68.3" fill="#000" stroke="#ffffff" stroke-width="1.1">
<text x="241.15" y="1619.3" text-anchor="middle">0</text>
<text x="549.97" y="1619.3" text-anchor="middle">10</text>
<text x="865.24" y="1619.3" text-anchor="middle">20</text>
<text x="1178.61" y="1619.3" text-anchor="middle">30</text>
<text x="1491.58" y="1619.3" text-anchor="middle">40</text>
<text x="1806.45" y="1619.3" text-anchor="middle">50</text>
<text x="2121.22" y="1619.3" text-anchor="middle">60</text>
<text x="203" y="1574.8" text-anchor="end">5</text>
<text x="203" y="1244.7" text-anchor="end">10</text>
<text x="203" y="914.6" text-anchor="end">15</text>
<text x="203" y="584.5" text-anchor="end">20</text>
<text x="203" y="254.4" text-anchor="end">25</text>
<text y="1712.5" font-size="67.85"><tspan x="915.1">Density (g</tspan><tspan x="1275.7">cm</tspan><tspan x="1378.75" y="1685.3" font-size="47">−</tspan><tspan x="1418.8" y="1685.3" font-size="47">3</tspan><tspan x="1451.1" y="1712.5">)</tspan></text>
<text transform="translate(86.8,792.4) rotate(-90)" x="0" y="0" text-anchor="middle" font-size="67.85">Coordination Number</text>
<text transform="translate(402.1,874) rotate(-49.5)" x="0" y="0" font-size="43.5">733 GPa</text>
<text transform="translate(514.9,1074.9) rotate(20.2)" x="0" y="0" font-size="43.5">1848 GPa</text>
<text transform="translate(1900.9,891.5) rotate(-20.2)" x="0" y="0" font-size="43.5">66,091 GPa</text>
<text transform="translate(1862.5,1276.9) rotate(19.7)" x="0" y="0" font-size="43.5">60,027 GPa</text>
</g>
<g font-family="'DejaVu Sans', 'Liberation Sans', sans-serif" fill="#000">
<rect x="264.1" y="56.2" width="541.4" height="411.8" rx="5.5" ry="5.5" fill="#ffffff" fill-opacity="0.8" stroke="#c8c8c8" stroke-width="2.4"/>
</g>
<g font-family="'DejaVu Sans', 'Liberation Sans', sans-serif" fill="#000">
<line x1="280" y1="101.4" x2="388" y2="101.4" stroke="#ff0000" stroke-width="5.2"/>
<circle cx="334" cy="101.4" r="22.15" fill="#ff0000" stroke="#000000" stroke-width="6.3"/>
<line x1="280" y1="180.65" x2="388" y2="180.65" stroke="#32cd32" stroke-width="5.2"/>
<rect x="311.85" y="158.5" width="44.3" height="44.3" fill="#32cd32" stroke="#000000" stroke-width="6.3" stroke-linejoin="miter"/>
<line x1="280" y1="259.9" x2="388" y2="259.9" stroke="#00ffff" stroke-width="5.2"/>
<polygon points="334,228.58 352.79,259.9 334,291.22 315.21,259.9" fill="#00ffff" stroke="#000000" stroke-width="6.3" stroke-linejoin="miter" stroke-miterlimit="10"/>
<line x1="280" y1="339.15" x2="388" y2="339.15" stroke="#000000" stroke-width="5.2"/>
<polygon points="311.85,317 356.15,317 334,361.3" fill="#ffffff" stroke="#000000" stroke-width="6.3" stroke-linejoin="miter" stroke-miterlimit="10"/>
<line x1="280" y1="418.4" x2="388" y2="418.4" stroke="#ff8c00" stroke-width="5.2"/>
<polygon points="334,396.25 312.93,411.56 320.98,436.32 347.02,436.32 355.07,411.56" fill="#ff8c00" stroke="#000000" stroke-width="6.3" stroke-linejoin="miter" stroke-miterlimit="10"/>
</g>
<g font-family="'DejaVu Sans', 'Liberation Sans', sans-serif" fill="#000" stroke="#ffffff" stroke-width="1.1">
<text x="428.5" y="120.6" font-size="51.7"><tspan font-style="oblique" font-family="'DejaVu Sans', sans-serif">T</tspan><tspan x="468">=</tspan><tspan x="521.0">20,000 K</tspan></text>
<text x="428.5" y="199.85" font-size="51.7"><tspan font-style="oblique" font-family="'DejaVu Sans', sans-serif">T</tspan><tspan x="468">=</tspan><tspan x="521.0">30,000 K</tspan></text>
<text x="428.5" y="279.1" font-size="51.7"><tspan font-style="oblique" font-family="'DejaVu Sans', sans-serif">T</tspan><tspan x="468">=</tspan><tspan x="521.0">40,000 K</tspan></text>
<text x="428.5" y="358.35" font-size="51.7"><tspan font-style="oblique" font-family="'DejaVu Sans', sans-serif">T</tspan><tspan x="468">=</tspan><tspan x="521.0">50,000 K</tspan></text>
<text x="428.5" y="437.6" font-size="51.7"><tspan font-style="oblique" font-family="'DejaVu Sans', sans-serif">T</tspan><tspan x="468">=</tspan><tspan x="521.0">100,000 K</tspan></text>
</g>
</svg>
</body></html>
